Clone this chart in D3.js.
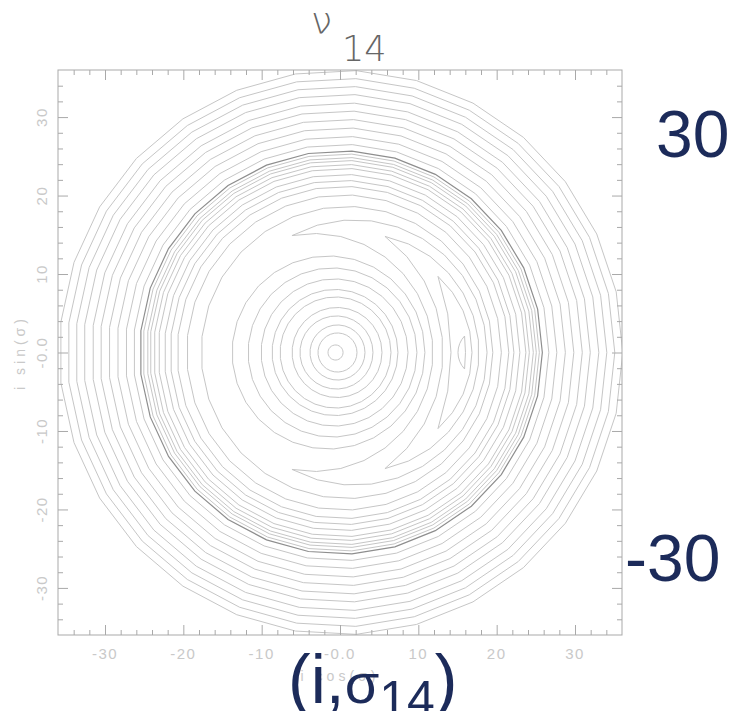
<!DOCTYPE html>
<html>
<head>
<meta charset="utf-8">
<script src="https://cdn.jsdelivr.net/npm/d3@7"></script>
<style>
  body { margin: 0; background: #fff; }
  svg { display: block; }
</style>
</head>
<body>
<div id="chart"></div>
<script>
const width = 731;
const height = 711;

// plot box (frame) in pixels
const box = { left: 58, right: 622, top: 70, bottom: 635 };

// axis ticks and labels
const xTicks = [-30, -20, -10, 0, 10, 20, 30];
const yTicks = [-30, -20, -10, 0, 10, 20, 30];
const tickLabels = ["-30", "-20", "-10", "-0.0", "10", "20", "30"];

// closed contours (centre on the i cos axis, radius), data units
const innerRingX = [-0.57, -0.32, -0.32, -0.45, -0.38, -0.57, -0.64, -0.70, -0.96, -1.47];
const innerRingR = [0.96, 2.49, 3.51, 4.66, 5.74, 7.08, 8.04, 9.38, 10.78, 12.31];
const midRingX = [0.89, 0.51, 0.38, 0.26, 0.26, 0.26, 0.19, 0.19, 0.19, 0.13];
const midRingR = [18.62, 20.09, 21.17, 21.94, 22.70, 23.47, 23.98, 24.49, 24.87, 25.32];
const darkRingX = [0.13];
const darkRingR = [25.70];
const outerRingX = [0.13, 0.13, 0.13, 0.13, 0.13, 0.13, 0.13, 0.13, 0.13, 0.13];
const outerRingR = [26.53, 27.55, 28.64, 29.72, 30.80, 31.82, 32.91, 33.93, 34.95, 35.97];

// crescent contours on the right: tip position, and where each edge crosses the axis
const crescentTipX = [-6.13, 5.74, 12.51, 15.9];
const crescentTipY = [14.9, 14.8, 9.7, 2.1];
const crescentInnerX = [11.87, 13.15, 14.17, 15.06];
const crescentOuterX = [18.77, 17.75, 16.85, 16.02];

const sides = 29; // polar grid resolution of the contour polygons

const x = d3.scaleLinear().domain([-36, 36]).range([box.left, box.right]);
const y = d3.scaleLinear().domain([-36, 36]).range([box.bottom, box.top]);

const svg = d3.select("#chart").append("svg")
    .attr("width", width).attr("height", height)
    .style("background", "#fff");

svg.append("clipPath").attr("id", "frame")
    .append("rect")
    .attr("x", x(-36)).attr("y", y(36))
    .attr("width", x(36) - x(-36)).attr("height", y(-36) - y(36));

const line = d3.line().x(d => x(d[0])).y(d => y(d[1])).curve(d3.curveLinearClosed);

function ringPoints(cx, r) {
    return d3.range(sides).map(k => {
        const a = 2 * Math.PI * k / sides;
        return [cx + r * Math.cos(a), r * Math.sin(a)];
    });
}

// circular arc from (tx,h) to (tx,-h) passing through (x0,0)
function arcPoints(tx, h, x0) {
    if (Math.abs(x0 - tx) < 1e-6) return [[tx, h], [tx, -h]];
    const c = (x0 * x0 - tx * tx - h * h) / (2 * (x0 - tx));
    const R = Math.abs(x0 - c);
    const a0 = Math.atan2(h, tx - c);
    const a1 = x0 > c ? -a0 : 2 * Math.PI - a0;
    const n = Math.max(2, Math.ceil(Math.abs(a1 - a0) / (2 * Math.PI / sides)));
    return d3.range(n + 1).map(i => {
        const a = a0 + (a1 - a0) * i / n;
        return [c + R * Math.cos(a), R * Math.sin(a)];
    });
}

const rings = []
    .concat(innerRingR.map((r, i) => ({ cx: innerRingX[i], r, dark: false })))
    .concat(midRingR.map((r, i) => ({ cx: midRingX[i], r, dark: false })))
    .concat(darkRingR.map((r, i) => ({ cx: darkRingX[i], r, dark: true })))
    .concat(outerRingR.map((r, i) => ({ cx: outerRingX[i], r, dark: false })));

const crescents = crescentTipX.map((tx, i) =>
    arcPoints(tx, crescentTipY[i], crescentInnerX[i])
        .concat(arcPoints(tx, crescentTipY[i], crescentOuterX[i]).reverse()));

const plot = svg.append("g").attr("clip-path", "url(#frame)");

plot.selectAll("path.ring")
    .data(rings)
    .join("path")
    .attr("class", "ring")
    .attr("d", d => line(ringPoints(d.cx, d.r)))
    .attr("fill", "none")
    .attr("stroke", d => d.dark ? "#8e8e8e" : "#c6c6c6")
    .attr("stroke-width", d => d.dark ? 1.2 : 1);

plot.selectAll("path.crescent")
    .data(crescents)
    .join("path")
    .attr("class", "crescent")
    .attr("d", line)
    .attr("fill", "none")
    .attr("stroke", "#c6c6c6")
    .attr("stroke-width", 1);

// frame and ticks on all four sides
const minorTicks = d3.range(-34, 35, 2).filter(v => v % 10 !== 0);
const tickColor = "#a9a9a9";

function addTicks(axis, transform) {
    [[xTicks, 10], [minorTicks, 5]].forEach(([vals, len]) => {
        const g = svg.append("g")
            .attr("transform", transform)
            .call(axis.tickValues(vals).tickSize(-len).tickFormat(""));
        g.select(".domain").remove();
        g.selectAll(".tick line").attr("stroke", tickColor);
    });
}
addTicks(d3.axisBottom(x), `translate(0,${y(-36)})`);
addTicks(d3.axisTop(x), `translate(0,${y(36)})`);
addTicks(d3.axisLeft(y), `translate(${x(-36)},0)`);
addTicks(d3.axisRight(y), `translate(${x(36)},0)`);

svg.append("rect")
    .attr("x", x(-36)).attr("y", y(36))
    .attr("width", x(36) - x(-36)).attr("height", y(-36) - y(36))
    .attr("fill", "none")
    .attr("stroke", tickColor);

// tick labels
const labelStyle = sel => sel
    .style("font-family", "'Liberation Sans', Arial, sans-serif")
    .style("font-size", "15px")
    .style("letter-spacing", "1.5px")
    .attr("fill", "#c9c9c9")
    .attr("text-anchor", "middle");

svg.selectAll("text.xl")
    .data(xTicks)
    .join("text")
    .attr("class", "xl")
    .attr("x", d => x(d))
    .attr("y", 659)
    .text((d, i) => tickLabels[i])
    .call(labelStyle);

svg.selectAll("text.yl")
    .data(yTicks)
    .join("text")
    .attr("class", "yl")
    .attr("transform", d => `translate(47,${y(d)}) rotate(-90)`)
    .text((d, i) => tickLabels[i])
    .call(labelStyle);

// axis titles
svg.append("text")
    .attr("transform", `translate(25,${y(0)}) rotate(-90)`)
    .text("i sin(σ)")
    .call(labelStyle)
    .style("font-size", "14px")
    .style("letter-spacing", "4px");

svg.append("text")
    .attr("x", x(0)).attr("y", 681)
    .text("i cos(σ)")
    .call(labelStyle)
    .style("font-size", "14px")
    .style("letter-spacing", "4px");

// plot title
const title = svg.append("g")
    .style("font-family", "'DejaVu Sans', sans-serif")
    .style("font-weight", 200)
    .attr("fill", "#666");
title.append("text").attr("x", 311).attr("y", 34).style("font-size", "38px").text("ν");
title.append("text").attr("x", 342).attr("y", 61).style("font-size", "35px").text("14");

// slide annotations
const navy = "#1c2b5a";
const big = svg.append("g")
    .style("font-family", "'Liberation Sans', Arial, sans-serif")
    .attr("fill", navy);
big.append("text").attr("x", 656).attr("y", 157).style("font-size", "66px").text("30");
big.append("text").attr("x", 625).attr("y", 581).style("font-size", "66px").text("-30");

const pair = big.append("text").attr("x", 288).attr("y", 703).style("font-size", "68px");
pair.append("tspan").text("(i,");
pair.append("tspan").style("font-size", "56px").text("σ");
pair.append("tspan").attr("dy", 13).style("font-size", "50px").text("14");
pair.append("tspan").attr("dy", -13).text(")");
</script>
</body>
</html>
